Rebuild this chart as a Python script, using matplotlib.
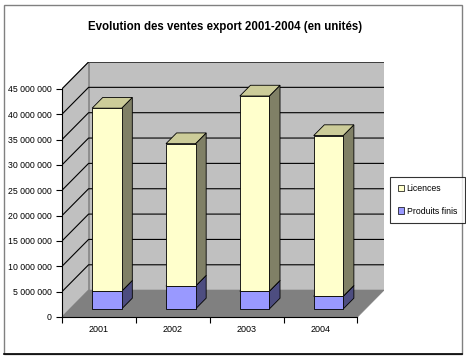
import matplotlib.pyplot as plt
from matplotlib.patches import Polygon, Patch, Rectangle
from matplotlib.lines import Line2D

# data (units)
annees = ['2001', '2002', '2003', '2004']
licences = [36100000, 28100000, 38500000, 31700000]
produits_finis = [3500000, 4500000, 3500000, 2500000]
graduations = [0, 5000000, 10000000, 15000000, 20000000, 25000000,
               30000000, 35000000, 40000000, 45000000]

plt.rcParams['font.family'] = ['Liberation Sans', 'DejaVu Sans']

# fake 3D: depth offset in data units
DX = 0.36
DY = 5300000
VMAX = 45000000

def proj(x, v, d):
    return (x + d * DX, v + d * DY)

def quad(ax, pts, fc, ec='black', lw=0.6, z=1):
    ax.add_patch(Polygon([proj(*p) for p in pts], closed=True, facecolor=fc,
                         edgecolor=ec, linewidth=lw, zorder=z))

fig = plt.figure(figsize=(4.66, 3.59), dpi=100)
W, H = 466, 359
ax = fig.add_axes([62 / W, 1 - 317 / H, (384 - 62) / W, (317 - 62) / H])
ax.set_xlim(0, len(annees) + DX)
ax.set_ylim(0, VMAX + DY)
ax.patch.set_visible(False)

n = len(annees)
# walls and floor
quad(ax, [(0, 0, 1), (n, 0, 1), (n, VMAX, 1), (0, VMAX, 1)], '#C0C0C0', ec='#808080')
quad(ax, [(0, 0, 0), (0, 0, 1), (0, VMAX, 1), (0, VMAX, 0)], '#C0C0C0', ec='#808080')
quad(ax, [(0, 0, 0), (n, 0, 0), (n, 0, 1), (0, 0, 1)], '#808080', ec='#808080')

# gridlines on back wall + side wall
for g in graduations[1:]:
    x0, y0 = proj(0, g, 0)
    x1, y1 = proj(0, g, 1)
    x2, y2 = proj(n, g, 1)
    ax.plot([x0, x1, x2], [y0, y1, y2], color='black', lw=0.8, zorder=2)

# bars, front face at depth 0.3, back at 0.7
d0, d1 = 0.3, 0.7
series = [(produits_finis, '#9999FF', '#7A7ACC', '#4D4D80'),
          (licences, '#FFFFCC', '#CCCC99', '#808066')]
for i in range(n):
    a, b = i + 0.3, i + 0.7
    bas = 0
    for vals, front, top, side in series:
        haut = bas + vals[i]
        quad(ax, [(b, bas, d0), (b, bas, d1), (b, haut, d1), (b, haut, d0)], side, z=3)
        quad(ax, [(a, haut, d0), (b, haut, d0), (b, haut, d1), (a, haut, d1)], top, z=3)
        quad(ax, [(a, bas, d0), (b, bas, d0), (b, haut, d0), (a, haut, d0)], front, z=4)
        bas = haut

# axes
for s in ['top', 'right']:
    ax.spines[s].set_visible(False)
ax.spines['left'].set_bounds(0, VMAX)
ax.spines['bottom'].set_bounds(0, n)
ax.set_yticks(graduations)
ax.set_yticklabels(['{:,}'.format(g).replace(',', ' ') for g in graduations])
ax.set_xticks(range(n + 1))
ax.set_xticklabels([])
ax.set_xticks([i + 0.5 for i in range(n)], minor=True)
ax.set_xticklabels(annees, minor=True)
ax.tick_params(axis='both', which='major', direction='out', length=4, width=0.8, labelsize=6.3)
ax.tick_params(axis='x', which='minor', length=0, labelsize=6.5, pad=6)

fig.text(225 / W, 1 - 27 / H, 'Evolution des ventes export 2001-2004 (en unités)',
         ha='center', va='center', fontsize=8.3, fontweight='bold')

handles = [Patch(facecolor='#FFFFCC', edgecolor='black', linewidth=0.5, label='Licences'),
           Patch(facecolor='#9999FF', edgecolor='black', linewidth=0.5, label='Produits finis')]
leg = fig.legend(handles=handles, loc='center left', bbox_to_anchor=(390 / W, 1 - 200 / H),
                 fontsize=6.3, frameon=True, fancybox=False, edgecolor='black',
                 handlelength=0.7, handleheight=0.7, handletextpad=0.3,
                 labelspacing=1.5, borderpad=0.9, borderaxespad=0)
leg.get_frame().set_linewidth(0.8)

# chart border
fig.add_artist(Rectangle((4 / W, 1 - 354 / H), 458 / W, 349 / H, transform=fig.transFigure,
                         fill=False, edgecolor='#808080', linewidth=1))
fig.add_artist(Line2D([4 / W, 462 / W], [1 - 354 / H, 1 - 354 / H], transform=fig.transFigure,
                      color='black', linewidth=1.2))

plt.savefig('out.png', dpi=100)
